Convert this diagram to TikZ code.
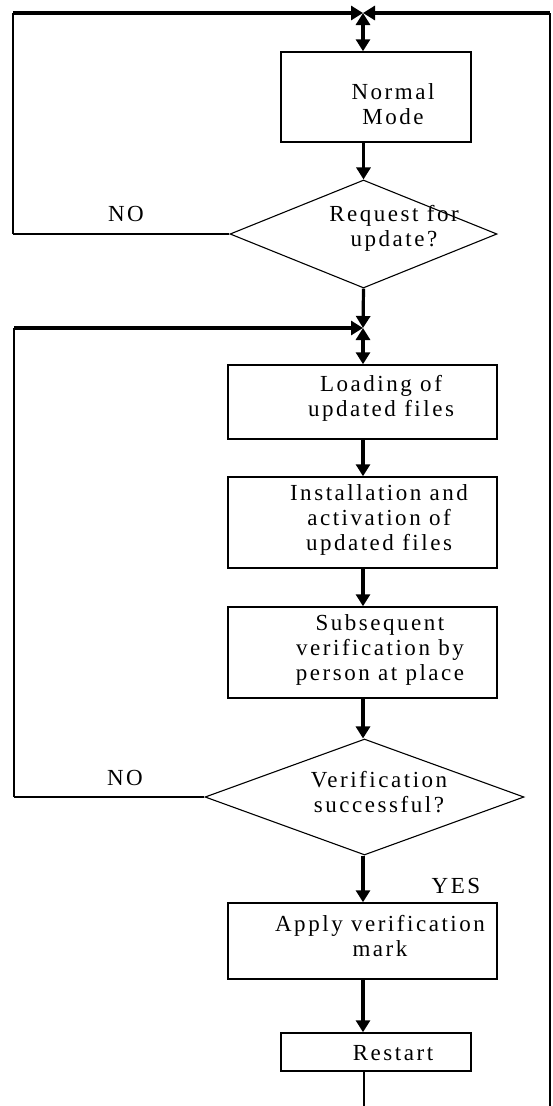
\documentclass[tikz,border=0pt]{standalone}
\usepackage{fontspec}
\setmainfont{Liberation Serif}[LetterSpace=11]
\usetikzlibrary{arrows.meta,shapes.geometric,calc}
\tikzset{
  boxnode/.style={draw, line width=1.5pt, rectangle, inner sep=0pt},
  decnode/.style={draw, line width=1.1pt, diamond, inner sep=0pt},
  txt/.style={align=center, inner sep=0pt, font=\fontsize{23}{25}\selectfont},
  flow/.style={line width=3.2pt, -{Triangle[width=14pt,length=12pt]}},
  biflow/.style={line width=3.2pt, {Triangle[width=14pt,length=12pt]}-{Triangle[width=14pt,length=12pt]}},
  loopline/.style={line width=2pt},
  thinline/.style={line width=1.4pt},
}
\begin{document}
\begin{tikzpicture}[x=1pt,y=-1pt]
\useasboundingbox (0,0) rectangle (553,1106);
% boxes
\node[boxnode, minimum width=190pt, minimum height=90pt] (nm) at (376,97) {};
\node[txt] (nmt) at (393,104) {Normal\\Mode};
\node[decnode, minimum width=267pt, minimum height=108pt] (d1) at (363.5,234) {};
\node[txt] (d1t) at (394,228) {Request for\\update?};
\node[boxnode, minimum width=269pt, minimum height=74pt] (load) at (362.5,402) {};
\node[txt] (loadt) at (381,398) {Loading of\\updated files};
\node[boxnode, minimum width=269pt, minimum height=91pt] (inst) at (362.5,522.5) {};
\node[txt] (instt) at (379,520) {Installation and\\activation of\\updated files};
\node[boxnode, minimum width=269pt, minimum height=91pt] (subs) at (362.5,652.5) {};
\node[txt] (subst) at (380,650) {Subsequent\\verification by\\person at place};
\node[decnode, minimum width=319pt, minimum height=116pt] (d2) at (364.5,797) {};
\node[txt] (d2t) at (379,792) {Verification\\successful?};
\node[boxnode, minimum width=269pt, minimum height=76pt] (apply) at (362.5,941) {};
\node[txt] (applyt) at (380,936) {Apply verification\\mark};
\node[boxnode, minimum width=190pt, minimum height=38pt] (rst) at (376,1052) {};
\node[txt] (rstt) at (393,1053) {Restart};
% labels
\node[txt] (no1) at (126,214) {NO};
\node[txt] (no2) at (125,778) {NO};
\node[txt] (yes) at (456,886) {YES};
% junctions and corners
\coordinate (j1) at (363,13);
\coordinate (j2) at (363,328);
\coordinate (tl) at (13,13);
\coordinate (tr) at (550,13);
\coordinate (lb1) at (13,234);
\coordinate (lt2) at (14,328);
\coordinate (lb2) at (14,797);
\coordinate (bot) at (364,1115);
\coordinate (br) at (550,1115);
% loops
\draw[thinline] (d1.west) -- (lb1);
\draw[loopline] (lb1) -- (tl);
\draw[flow] (tl) -- (j1);
\draw[thinline] (rst.south -| bot) -- (bot);
\draw[loopline] (bot) -| (tr);
\draw[flow] (tr) -- (j1);
\draw[biflow] (j1) -- (nm.north -| j1);
\draw[flow] (nm.south -| d1.north) -- (d1.north);
\draw[flow] (d1.south) -- (j2);
\draw[thinline] (d2.west) -- (lb2);
\draw[loopline] (lb2) -- (lt2);
\draw[flow] (lt2) -- (j2);
\draw[biflow] (j2) -- (load.north -| j2);
\draw[flow] (load.south -| j2) -- (inst.north -| j2);
\draw[flow] (inst.south -| j2) -- (subs.north -| j2);
\draw[flow] (subs.south -| j2) -- (d2.north -| j2);
\draw[flow] (d2.south -| j2) -- (apply.north -| j2);
\draw[flow] (apply.south -| j2) -- (rst.north -| j2);
\end{tikzpicture}
\end{document}
